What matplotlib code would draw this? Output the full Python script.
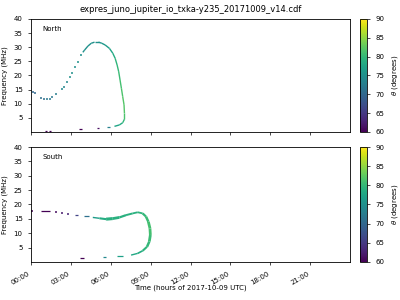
import numpy as np
import matplotlib
matplotlib.use("Agg")
import matplotlib.pyplot as plt
from matplotlib.collections import LineCollection
from matplotlib.colors import Normalize

# --- data (time in hours, freq in MHz, theta in degrees) ---
# North: sparse dots
n_dot_t = [0.15, 0.33, 0.78, 0.95, 1.18, 1.40, 1.60, 1.88, 2.35, 2.48, 2.73, 2.93, 3.10, 3.28, 3.53, 3.78]
n_dot_f = [14.3, 13.7, 12.2, 11.8, 11.6, 11.8, 12.3, 13.3, 15.3, 15.9, 17.6, 19.5, 21.0, 22.9, 24.9, 27.3]
n_dot_th = [70, 70, 71, 71, 72, 72, 72, 73, 74, 74, 74, 75, 75, 75, 75, 75]

# North: continuous arc
n_arc_t = [3.90, 4.03, 4.28, 4.53, 4.78, 5.08, 5.33, 5.58, 5.90, 6.15, 6.33, 6.48, 6.60, 6.70, 6.80,
           6.90, 7.00, 7.03, 7.03, 6.90, 6.65, 6.28]
n_arc_f = [28.2, 29.0, 30.4, 31.4, 31.8, 31.8, 31.4, 30.8, 29.6, 27.9, 26.1, 23.7, 21.3, 18.4, 15.5,
           12.5, 9.6, 6.6, 4.5, 3.3, 2.5, 2.0]
n_arc_th = [75, 75, 75, 75, 75, 75, 76, 76, 77, 78, 79, 80, 80, 81, 81, 82, 82, 82, 81, 79, 78, 77]

# North: short dashes near the bottom (start, end, freq, theta)
n_dash_t0 = [1.03, 1.35, 3.60, 4.95, 5.75]
n_dash_t1 = [1.23, 1.52, 3.82, 5.15, 5.92]
n_dash_f = [0.5, 0.5, 1.0, 1.3, 1.7]
n_dash_th = [60, 60, 60, 61, 73]

# South: sparse dots
s_dot_t = [0.08, 1.90, 2.33, 2.78]
s_dot_f = [17.9, 17.4, 16.9, 16.6]
s_dot_th = [60, 61, 62, 63]

# South: continuous loop
s_arc_t = [4.65, 5.15, 5.65, 6.15, 6.65, 7.15, 7.65, 8.03, 8.40, 8.65, 8.83, 8.95, 8.98,
           8.90, 8.73, 8.40, 8.03, 7.53]
s_arc_f = [15.5, 15.2, 14.9, 15.1, 15.5, 16.3, 16.9, 17.3, 16.9, 15.8, 14.0, 11.7, 9.4,
           7.1, 5.3, 3.9, 3.0, 2.4]
s_arc_th = [75, 78, 79, 79, 79, 79, 79, 79, 80, 80, 81, 81, 81, 80, 80, 79, 78, 78]
s_arc_w = [1.0, 1.5, 2.2, 2.0, 1.6, 1.4, 1.3, 1.3, 1.6, 1.8, 2.0, 2.0, 2.0, 1.8, 1.5, 1.2, 1.0, 1.0]

# South: dashes (start, end, freq, theta)
s_dash_t0 = [0.75, 3.30, 3.95, 3.70, 5.40, 6.45]
s_dash_t1 = [1.45, 3.55, 4.35, 3.98, 5.68, 6.90]
s_dash_f = [17.9, 16.3, 16.0, 1.4, 1.6, 2.1]
s_dash_th = [60, 66, 71, 60, 74, 77]

title = "expres_juno_jupiter_io_txka-y235_20171009_v14.cdf"
xticks = [0, 3, 6, 9, 12, 15, 18, 21]
xticklabels = ["%02d:00" % h for h in xticks]
yticks = [5, 10, 15, 20, 25, 30, 35, 40]

cmap = plt.get_cmap("viridis")
norm = Normalize(vmin=60, vmax=90)
DOT_HALF = 0.07  # half width of a dot, hours


def draw_panel(ax, dot_t, dot_f, dot_th, arc_t, arc_f, arc_th, arc_w,
               dash_t0, dash_t1, dash_f, dash_th, name):
    # dots as tiny horizontal ticks
    for t, f, a in zip(dot_t, dot_f, dot_th):
        ax.plot([t - DOT_HALF, t + DOT_HALF], [f, f], color=cmap(norm(a)), lw=1.1,
                solid_capstyle="butt")
    pts = np.column_stack([arc_t, arc_f])
    segs = np.stack([pts[:-1], pts[1:]], axis=1)
    th = np.asarray(arc_th, dtype=float)
    lc = LineCollection(segs, colors=cmap(norm((th[:-1] + th[1:]) / 2)),
                        linewidths=arc_w, capstyle="butt")
    ax.add_collection(lc)
    for t0, t1, f, a in zip(dash_t0, dash_t1, dash_f, dash_th):
        ax.plot([t0, t1], [f, f], color=cmap(norm(a)), lw=0.9, solid_capstyle="butt")
    ax.set_xlim(0, 24)
    ax.set_ylim(0, 40)
    ax.set_yticks(yticks)
    ax.set_xticks(xticks)
    ax.set_ylabel("Frequency (MHz)", fontsize=5)
    ax.tick_params(labelsize=5, length=2.5, width=0.5)
    ax.text(0.035, 0.91, name, transform=ax.transAxes, fontsize=5, va="center")
    for sp in ax.spines.values():
        sp.set_linewidth(0.6)


fig = plt.figure(figsize=(4, 3), dpi=100)
ax1 = fig.add_axes([0.0775, 0.56, 0.7975, 0.3767])
ax2 = fig.add_axes([0.0775, 0.1267, 0.7975, 0.3833])
cax1 = fig.add_axes([0.9, 0.56, 0.0175, 0.3767])
cax2 = fig.add_axes([0.9, 0.1267, 0.0175, 0.3833])

draw_panel(ax1, n_dot_t, n_dot_f, n_dot_th, n_arc_t, n_arc_f, n_arc_th, 1.0,
           n_dash_t0, n_dash_t1, n_dash_f, n_dash_th, "North")
draw_panel(ax2, s_dot_t, s_dot_f, s_dot_th, s_arc_t, s_arc_f, s_arc_th, s_arc_w,
           s_dash_t0, s_dash_t1, s_dash_f, s_dash_th, "South")

ax1.set_xticklabels([])
ax2.set_xticklabels(xticklabels, rotation=30, ha="right")
ax2.set_xlabel("Time (hours of 2017-10-09 UTC)", fontsize=5, labelpad=-1)
ax1.set_title(title, fontsize=6, pad=5)

sm = plt.cm.ScalarMappable(norm=norm, cmap=cmap)
for cax in (cax1, cax2):
    cb = fig.colorbar(sm, cax=cax)
    cb.set_ticks([60, 65, 70, 75, 80, 85, 90])
    cb.ax.tick_params(labelsize=5, length=2.5, width=0.5)
    cb.set_label(r"$\theta$ (degrees)", fontsize=5)
    cb.outline.set_linewidth(0.6)

fig.savefig("out.png", dpi=100)
